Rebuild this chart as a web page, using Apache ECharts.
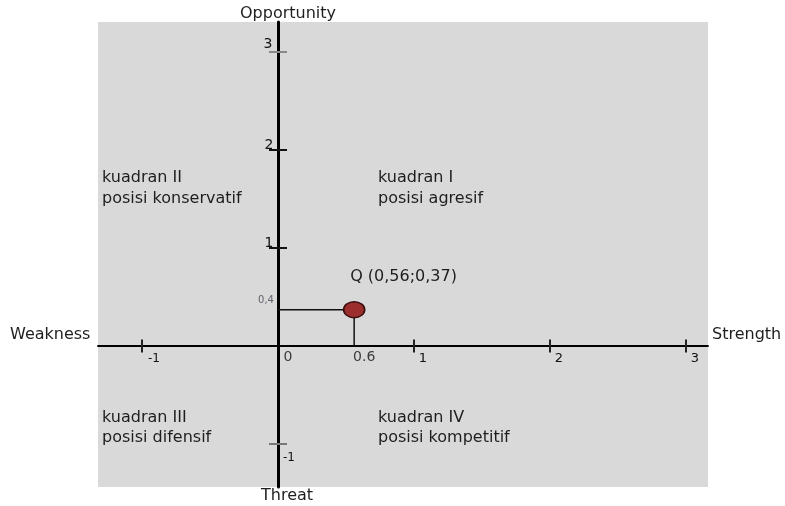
<!DOCTYPE html>
<html><head><meta charset="utf-8">
<script src="https://cdn.jsdelivr.net/npm/echarts@6/dist/echarts.min.js"></script>
<style>html,body{margin:0;padding:0;background:#fff}#c{width:785px;height:506px}</style>
</head><body><div id="c"></div>
<script>
// ---- data ----
const xTickValues = [-1, 1, 2, 3];
const xTickLabels = ['-1', '1', '2', '3'];
const yTickValues = [3, 2, 1, -1];
const yTickLabels = ['3', '2', '1', '-1'];
const pointQ = [0.56, 0.37];
const pointQLabel = 'Q (0,56;0,37)';
const pointQxLabel = '0.6';
const pointQyLabel = '0,4';
const originLabel = '0';
const axisNameTop = 'Opportunity';
const axisNameBottom = 'Threat';
const axisNameLeft = 'Weakness';
const axisNameRight = 'Strength';
const quadrantI = ['kuadran I', 'posisi agresif'];
const quadrantII = ['kuadran II', 'posisi konservatif'];
const quadrantIII = ['kuadran III', 'posisi difensif'];
const quadrantIV = ['kuadran IV', 'posisi kompetitif'];

// ---- chart ----
const FONT = 'DejaVu Sans';
const chart = echarts.init(document.getElementById('c'));
const xScale = 136, yScale = 98;
const xOffsets = [[12, 13], [9, 13], [9, 13], [9, 13]];
const yOffsets = [[-10, -8], [-9, -5], [-9, -5], [11, 14]];
const yTickColors = ['#888', '#111', '#111', '#777'];

function txt(lines, left, top, size, lh) {
  return {
    type: 'text', left: left, top: top,
    style: { text: lines.join('\n'), font: size + 'px "' + FONT + '"', fill: '#1e1e1e', lineHeight: lh || size }
  };
}

chart.setOption({
  animation: false,
  grid: { left: 98, top: 22, width: 610, height: 465, show: true,
          backgroundColor: '#d9d9d9', borderWidth: 0 },
  xAxis: {
    type: 'value', min: -180 / xScale, max: 430 / xScale,
    axisLine: { onZero: true, lineStyle: { color: '#000', width: 1.8 } },
    axisTick: { show: false }, axisLabel: { show: false }, splitLine: { show: false }
  },
  yAxis: {
    type: 'value', min: -141 / yScale, max: 324 / yScale,
    axisLine: { onZero: true, lineStyle: { color: '#000', width: 3 } },
    axisTick: { show: false }, axisLabel: { show: false }, splitLine: { show: false }
  },
  graphic: [
    txt([axisNameTop], 240, 6, 16),
    txt([axisNameBottom], 261, 488, 16),
    txt([axisNameLeft], 10, 327, 16),
    txt([axisNameRight], 712, 327, 16),
    txt(quadrantII, 102, 167, 16, 21),
    txt(quadrantI, 378, 167, 16, 21),
    txt(quadrantIII, 102, 408, 16, 20),
    txt(quadrantIV, 378, 408, 16, 20)
  ],
  series: [
    {
      type: 'line', symbol: 'none', z: 3,
      lineStyle: { color: '#111', width: 1.5 },
      data: [[0, pointQ[1]], [pointQ[0], pointQ[1]], [pointQ[0], 0]]
    },
    {
      type: 'scatter', symbol: 'rect', symbolSize: [2, 13], z: 4,
      itemStyle: { color: '#222', opacity: 1 },
      data: xTickValues.map((v, i) => ({
        value: [v, 0],
        label: { show: true, formatter: xTickLabels[i], position: 'inside', offset: xOffsets[i],
                 fontFamily: FONT, fontSize: i === 0 ? 12 : 13, color: '#111' }
      }))
    },
    {
      type: 'scatter', symbol: 'rect', symbolSize: [18, 2], z: 4,
      data: yTickValues.map((v, i) => ({
        value: [0, v],
        itemStyle: { color: yTickColors[i], opacity: 1 },
        label: { show: true, formatter: yTickLabels[i], position: 'inside', offset: yOffsets[i],
                 fontFamily: FONT, fontSize: i === 3 ? 12 : 14, color: '#111' }
      }))
    },
    {
      type: 'scatter', symbolSize: 0, z: 4,
      data: [
        { value: [0, 0], label: { show: true, formatter: originLabel, position: 'inside', offset: [10, 11],
          fontFamily: FONT, fontSize: 14, color: '#111' } },
        { value: [pointQ[0], 0], label: { show: true, formatter: pointQxLabel, position: 'inside', offset: [10, 11],
          fontFamily: FONT, fontSize: 14, color: '#111' } },
        { value: [0, pointQ[1]], label: { show: true, formatter: pointQyLabel, position: 'inside', offset: [-12, -9],
          fontFamily: FONT, fontSize: 10, color: '#445' } }
      ]
    },
    {
      type: 'scatter', symbol: 'circle', symbolSize: [21, 16], z: 5,
      itemStyle: { color: '#9c2e2e', borderColor: '#3a0e0e', borderWidth: 1.5, opacity: 1 },
      label: { show: true, formatter: pointQLabel, position: 'inside', align: 'left', offset: [-4, -33],
               fontFamily: FONT, fontSize: 16, color: '#1e1e1e' },
      data: [pointQ]
    }
  ]
});
</script></body></html>
